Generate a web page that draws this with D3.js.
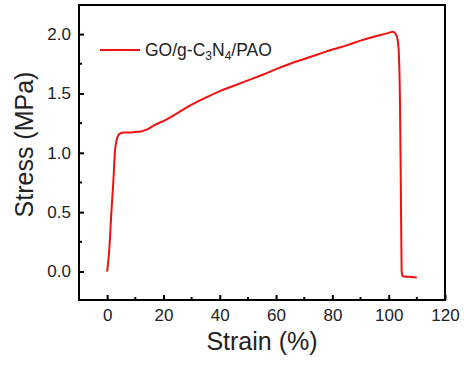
<!DOCTYPE html>
<html lang="en">
<head>
  <meta charset="UTF-8">
  <title>Stress-strain</title>
  <style>
    body { margin: 0; background: #fff; }
    text { font-family: "Liberation Sans", Arial, sans-serif; fill: #222; }
  </style>
</head>
<body>
  <svg id="container" height="366" width="464"></svg>
</body>
<script src="https://cdn.jsdelivr.net/npm/d3@7"></script>
<script>
  // strain (%) and stress (MPa)
  let strain = [0, 0.8, 1.5, 2.2, 2.8, 3.4, 4.0, 4.8, 6, 8, 10, 12, 14, 17, 21, 25,
                30, 35, 40, 45, 50, 55, 60, 65, 70, 75, 80, 85, 90, 95, 100,
                101.5, 102.5, 103.2, 103.7, 104.0, 104.3, 104.6, 105, 107, 110]
  let stress = [0, 0.2, 0.5, 0.76, 1.02, 1.11, 1.15, 1.165, 1.17, 1.17, 1.175, 1.18, 1.195, 1.235, 1.28, 1.335,
                1.405, 1.465, 1.52, 1.565, 1.61, 1.655, 1.705, 1.75, 1.79, 1.83, 1.87, 1.905, 1.945, 1.98, 2.01,
                2.02, 2.0, 1.95, 1.78, 1.44, 0.75, 0.0, -0.04, -0.045, -0.05]
  let xTicks = [0, 20, 40, 60, 80, 100, 120]
  let xMinor = [10, 30, 50, 70, 90, 110]
  let yTicks = [0.0, 0.5, 1.0, 1.5, 2.0]
  let yMinor = [0.25, 0.75, 1.25, 1.75]
  let seriesName = ["GO/g-C", "3", "N", "4", "/PAO"]

  let svg = d3.select("#container")
  let plotLeft = 79, plotRight = 445, plotTop = 5, plotBottom = 300

  let x = d3.scaleLinear().domain([-10, 120]).range([plotLeft, plotRight])
  let y = d3.scaleLinear().domain([-0.24, 2.245]).range([plotBottom, plotTop])

  let data = strain.map((s, i) => ({ x: s, y: stress[i] }))

  // bottom axis, ticks pointing inward
  let xAxis = svg.append("g").attr("transform", `translate(0,${plotBottom})`)
  xAxis.call(d3.axisBottom(x).tickValues(xTicks).tickSizeInner(-5).tickSizeOuter(0).tickFormat(d3.format("d")))
  xAxis.selectAll(".tick text").attr("y", 9).attr("dy", "0.71em").style("font-size", "17px")
  xAxis.selectAll(".tick line").attr("stroke-width", 2)
  xAxis.selectAll(".minor").data(xMinor).enter().append("line")
       .attr("x1", d => x(d)).attr("x2", d => x(d)).attr("y1", 0).attr("y2", -3)
       .attr("stroke", "#000").attr("stroke-width", 2)
  xAxis.select(".domain").remove()

  // left axis
  let yAxis = svg.append("g").attr("transform", `translate(${plotLeft},0)`)
  yAxis.call(d3.axisLeft(y).tickValues(yTicks).tickSizeInner(-5).tickSizeOuter(0).tickFormat(d3.format(".1f")))
  yAxis.selectAll(".tick text").attr("x", -8).style("font-size", "17px")
  yAxis.selectAll(".tick line").attr("stroke-width", 2)
  yAxis.selectAll(".minor").data(yMinor).enter().append("line")
       .attr("y1", d => y(d)).attr("y2", d => y(d)).attr("x1", 0).attr("x2", 3)
       .attr("stroke", "#000").attr("stroke-width", 2)
  yAxis.select(".domain").remove()
  svg.selectAll(".tick text").attr("fill", "#222").style("font-family", "'Liberation Sans', Arial, sans-serif")

  // frame
  svg.append("rect")
     .attr("x", plotLeft).attr("y", plotTop)
     .attr("width", plotRight - plotLeft).attr("height", plotBottom - plotTop)
     .attr("fill", "none").attr("stroke", "#000").attr("stroke-width", 2)

  // curve
  let line = d3.line().x(d => x(d.x)).y(d => y(d.y)).curve(d3.curveMonotoneX)
  svg.append("path")
     .datum(data)
     .attr("d", line)
     .attr("fill", "none")
     .attr("stroke", "#f01010")
     .attr("stroke-width", 2)
     .attr("stroke-linejoin", "round")

  // legend
  svg.append("line")
     .attr("x1", 100).attr("x2", 140).attr("y1", 50).attr("y2", 50)
     .attr("stroke", "#f01010").attr("stroke-width", 2)
  let legendText = svg.append("text").attr("x", 145).attr("y", 56).style("font-size", "17.5px")
  seriesName.forEach((t, i) => {
    let sub = i === 1 || i === 3
    legendText.append("tspan").text(t)
      .attr("dy", sub ? 4 : (i > 0 ? -4 : 0))
      .style("font-size", sub ? "12px" : "17.5px")
  })

  // axis titles
  svg.append("text")
     .attr("x", (plotLeft + plotRight) / 2).attr("y", 350)
     .attr("text-anchor", "middle")
     .style("font-size", "25px")
     .text("Strain (%)")

  svg.append("text")
     .attr("transform", `translate(33,${(plotTop + plotBottom) / 2 - 8}) rotate(-90)`)
     .attr("text-anchor", "middle")
     .style("font-size", "25px")
     .text("Stress (MPa)")
</script>
</html>
